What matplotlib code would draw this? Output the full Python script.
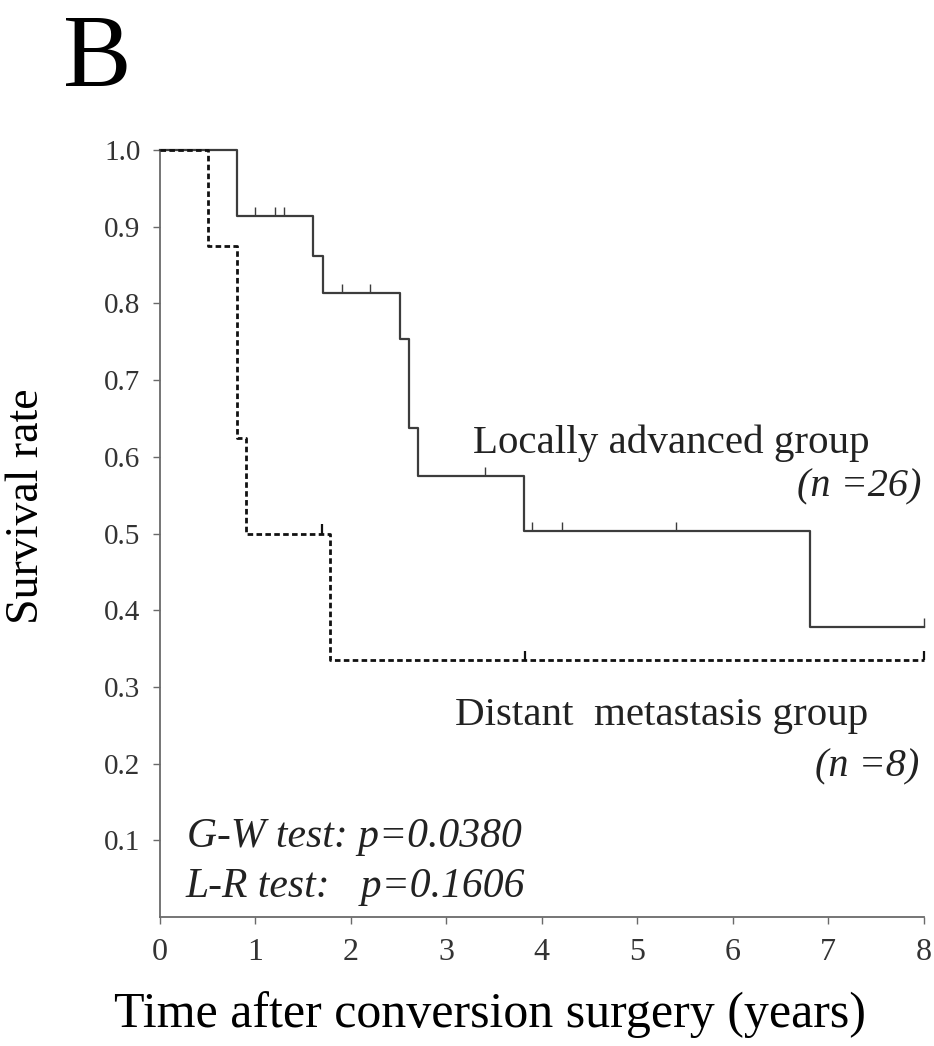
import numpy as np
import matplotlib
matplotlib.use("Agg")
import matplotlib.pyplot as plt

plt.rcParams['font.family'] = ['Liberation Serif', 'DejaVu Serif']

# Kaplan-Meier curves
la_times = [0, 0.81, 1.60, 1.71, 2.51, 2.61, 2.70, 3.81, 6.81, 8.0]
la_surv = [1.0, 0.914, 0.862, 0.813, 0.753, 0.637, 0.575, 0.503, 0.378, 0.378]
la_censor = [1.00, 1.20, 1.30, 1.91, 2.20, 3.40, 3.90, 4.21, 5.41, 8.0]

dm_times = [0, 0.50, 0.81, 0.90, 1.78, 8.0]
dm_surv = [1.0, 0.875, 0.625, 0.5, 0.335, 0.335]
dm_censor = [1.70, 3.82, 8.0]

x_ticks = [0, 1, 2, 3, 4, 5, 6, 7, 8]
y_ticks = [0.1, 0.2, 0.3, 0.4, 0.5, 0.6, 0.7, 0.8, 0.9, 1.0]


def surv_at(times, surv, t):
    i = np.searchsorted(times, t, side='right') - 1
    return np.array(surv)[i]


fig = plt.figure(figsize=(9.34, 10.46), dpi=100)
ax = fig.add_axes([0.1713, 0.1233, 0.8177, 0.7333])

# locally advanced (solid grey)
ax.step(la_times, la_surv, where='post', color='#3c3c3c', lw=1.6, clip_on=False, zorder=3)
la_cy = surv_at(la_times, la_surv, la_censor)
ax.vlines(la_censor, la_cy, la_cy + 0.012, color='#3c3c3c', lw=1.0, clip_on=False)

# distant metastasis (dashed black)
ax.step(dm_times, dm_surv, where='post', color='#111111', lw=2.0,
        dashes=(2.0, 1.2), clip_on=False, zorder=4)
dm_cy = surv_at(dm_times, dm_surv, dm_censor)
ax.vlines(dm_censor, dm_cy, dm_cy + 0.012, color='#111111', lw=1.6, clip_on=False)

ax.set_xlim(0, 8)
ax.set_ylim(0, 1.0)
ax.set_xticks(x_ticks)
ax.set_yticks(y_ticks)
ax.set_yticklabels([f"{v:.1f}" for v in y_ticks])
for s in ['top', 'right']:
    ax.spines[s].set_visible(False)
for s in ['left', 'bottom']:
    ax.spines[s].set_color('#6a6a6a')
    ax.spines[s].set_linewidth(1.3)
ax.tick_params(direction='out', length=5, width=1.0, color='#6a6a6a',
               labelcolor='#333333', pad=9)
ax.tick_params(axis='y', labelsize=21)
ax.tick_params(axis='x', labelsize=23, pad=10)

ax.set_ylabel("Survival rate", fontsize=33)
ax.yaxis.set_label_coords(-0.146, 0.535)
ax.set_xlabel("Time after conversion surgery (years)", fontsize=36)
ax.xaxis.set_label_coords(0.432, -0.096)

ax.text(3.28, 0.605, "Locally advanced group", fontsize=29.5, color='#222222')
ax.text(7.98, 0.548, "(n =26)", fontsize=29, style='italic', ha='right', color='#222222')
ax.text(3.09, 0.25, "Distant  metastasis group", fontsize=29.5, color='#222222')
ax.text(7.95, 0.183, "(n =8)", fontsize=29, style='italic', ha='right', color='#222222')
ax.text(0.28, 0.091, "G-W test: p=0.0380", fontsize=30, style='italic', color='#222222')
ax.text(0.27, 0.026, "L-R test:   p=0.1606", fontsize=30, style='italic', color='#222222')

fig.text(0.067, 0.918, "B", fontsize=74, color='black')

fig.savefig("out.png", dpi=100)
